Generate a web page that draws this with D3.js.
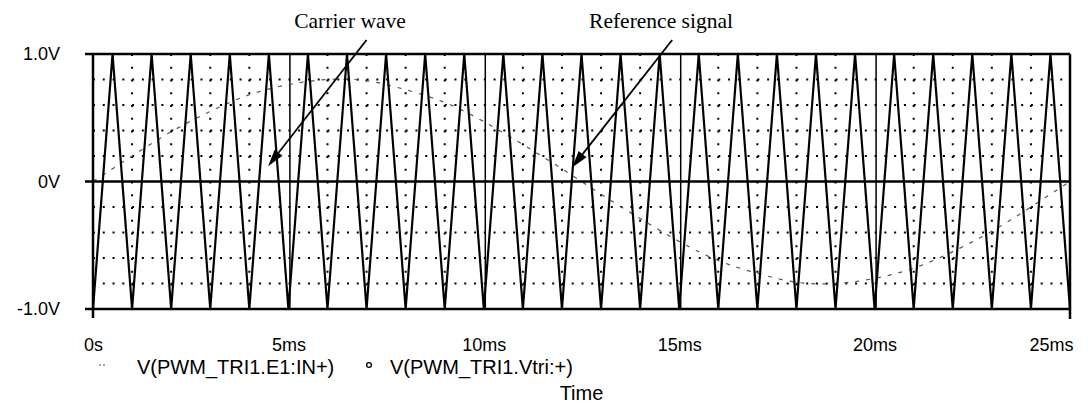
<!DOCTYPE html>
<html>
<head>
	<meta charset="utf-8">
	<script type="text/javascript" src="https://cdn.jsdelivr.net/npm/d3@7"></script>
	<style type="text/css">
		body { margin: 0; background: #fff; }
		.axis text {
			font-family: "Liberation Sans", Arial, sans-serif;
			font-size: 18px;
			fill: #000;
		}
		.axis path { display: none; }
		.axis line { stroke: #000; stroke-width: 2; }
		.note {
			font-family: "Liberation Serif", "Times New Roman", serif;
			font-size: 21.5px;
			fill: #000;
		}
		.legend {
			font-family: "Liberation Sans", Arial, sans-serif;
			font-size: 20px;
			fill: #000;
		}
	</style>
</head>
<body>

<script type="text/javascript">
	var width = 1088;
	var height = 419;
	var padding = {left: 93, right: 18, top: 54, bottom: 110};

	// carrier wave vertices (ms, V)
	var carrierT = [0, 0.5, 1, 1.5, 2, 2.5, 3, 3.5, 4, 4.5, 5, 5.5, 6, 6.5, 7, 7.5, 8, 8.5, 9, 9.5,
		10, 10.5, 11, 11.5, 12, 12.5, 13, 13.5, 14, 14.5, 15, 15.5, 16, 16.5, 17, 17.5, 18, 18.5, 19, 19.5,
		20, 20.5, 21, 21.5, 22, 22.5, 23, 23.5, 24, 24.5, 25];
	var carrierV = [-1, 1, -1, 1, -1, 1, -1, 1, -1, 1, -1, 1, -1, 1, -1, 1, -1, 1, -1, 1,
		-1, 1, -1, 1, -1, 1, -1, 1, -1, 1, -1, 1, -1, 1, -1, 1, -1, 1, -1, 1,
		-1, 1, -1, 1, -1, 1, -1, 1, -1, 1, -1];

	// reference signal read every 1 ms
	var refT = [0, 1, 2, 3, 4, 5, 6, 7, 8, 9, 10, 11, 12, 13, 14, 15, 16, 17, 18, 19, 20, 21, 22, 23, 24, 25];
	var refV = [0, 0.20, 0.39, 0.55, 0.68, 0.76, 0.80, 0.79, 0.72, 0.62, 0.47, 0.29, 0.10,
		-0.10, -0.29, -0.47, -0.62, -0.72, -0.79, -0.80, -0.76, -0.68, -0.55, -0.39, -0.20, 0];

	var xTicks = [0, 5, 10, 15, 20, 25];
	var xTickLabels = ["0s", "5ms", "10ms", "15ms", "20ms", "25ms"];
	var yTicks = [-1, 0, 1];
	var yTickLabels = ["-1.0V", "0V", "1.0V"];
	var gridT = [1, 2, 3, 4, 6, 7, 8, 9, 11, 12, 13, 14, 16, 17, 18, 19, 21, 22, 23, 24];
	var majorT = [5, 10, 15, 20];
	var gridV = [-0.8, -0.6, -0.4, -0.2, 0.2, 0.4, 0.6, 0.8];

	var legendLabels = ["V(PWM_TRI1.E1:IN+)", "V(PWM_TRI1.Vtri:+)"];

	var x = d3.scaleLinear().domain([0, 25]).range([padding.left, width - padding.right]);
	var y = d3.scaleLinear().domain([-1, 1]).range([height - padding.bottom, padding.top]);

	var svg = d3.select("body").append("svg")
		.attr("width", width)
		.attr("height", height);

	//网格点
	svg.selectAll(".hgrid").data(gridV).enter().append("line")
		.attr("class", "hgrid")
		.attr("x1", x(0)).attr("x2", x(25))
		.attr("y1", function(d){ return y(d); })
		.attr("y2", function(d){ return y(d); })
		.attr("stroke", "#000")
		.attr("stroke-width", 2)
		.attr("stroke-dasharray", "2," + (x(0.25) - x(0) - 2));

	svg.selectAll(".vgrid").data(gridT).enter().append("line")
		.attr("class", "vgrid")
		.attr("x1", function(d){ return x(d); })
		.attr("x2", function(d){ return x(d); })
		.attr("y1", y(1)).attr("y2", y(-1))
		.attr("stroke", "#000")
		.attr("stroke-width", 2)
		.attr("stroke-dasharray", "2," + (y(0.9) - y(1) - 2));

	svg.selectAll(".major").data(majorT).enter().append("line")
		.attr("class", "major")
		.attr("x1", function(d){ return x(d) + 1.5; })
		.attr("x2", function(d){ return x(d) + 1.5; })
		.attr("y1", y(1)).attr("y2", y(-1))
		.attr("stroke", "#000")
		.attr("stroke-width", 1.5);

	//参考信号
	var refLine = d3.line()
		.x(function(d, i){ return x(refT[i]); })
		.y(function(d){ return y(d); })
		.curve(d3.curveNatural);
	svg.append("path")
		.attr("d", refLine(refV))
		.attr("fill", "none")
		.attr("stroke", "#555")
		.attr("stroke-width", 1.2)
		.attr("stroke-dasharray", "4,7");

	//载波
	var carLine = d3.line()
		.x(function(d, i){ return x(carrierT[i]); })
		.y(function(d){ return y(d); });
	svg.append("path")
		.attr("d", carLine(carrierV))
		.attr("fill", "none")
		.attr("stroke", "#000")
		.attr("stroke-width", 2.2)
		.attr("stroke-linejoin", "miter");

	//边框
	var frame = svg.append("g").attr("stroke", "#000").attr("stroke-width", 2.5);
	frame.append("line").attr("x1", x(0) - 8).attr("x2", x(25)).attr("y1", y(1)).attr("y2", y(1));
	frame.append("line").attr("x1", x(0) - 8).attr("x2", x(25)).attr("y1", y(-1)).attr("y2", y(-1));
	frame.append("line").attr("x1", x(0) - 8).attr("x2", x(25)).attr("y1", y(0)).attr("y2", y(0));
	frame.append("line").attr("x1", x(0)).attr("x2", x(0)).attr("y1", y(1)).attr("y2", y(-1) + 9);
	frame.append("line").attr("x1", x(25)).attr("x2", x(25)).attr("y1", y(1)).attr("y2", y(-1) + 10);

	//坐标轴
	var xAxis = d3.axisBottom(x)
		.tickValues(xTicks)
		.tickSize(0)
		.tickPadding(29)
		.tickFormat(function(d, i){ return xTickLabels[i]; });
	var gx = svg.append("g")
		.attr("class", "axis")
		.attr("transform", "translate(0," + y(-1) + ")")
		.call(xAxis);
	gx.selectAll("text").filter(function(d){ return d === 25; })
		.attr("text-anchor", "end").attr("dx", 3);

	var yAxis = d3.axisLeft(y)
		.tickValues(yTicks)
		.tickSize(0)
		.tickPadding(33)
		.tickFormat(function(d, i){ return yTickLabels[i]; });
	svg.append("g")
		.attr("class", "axis")
		.attr("transform", "translate(" + x(0) + ",0)")
		.call(yAxis);

	//图例
	svg.append("text").attr("class", "legend")
		.attr("x", 137).attr("y", 374).text(legendLabels[0]);
	svg.append("text").attr("class", "legend")
		.attr("x", 390).attr("y", 374).text(legendLabels[1]);
	svg.append("g").selectAll("circle").data([0, 1]).enter().append("circle")
		.attr("cx", function(d){ return 100 + d * 4; })
		.attr("cy", 365).attr("r", 0.8).attr("fill", "#333");
	svg.append("circle")
		.attr("cx", 369).attr("cy", 365).attr("r", 2.4)
		.attr("fill", "none").attr("stroke", "#000").attr("stroke-width", 1.3);
	svg.append("text").attr("class", "legend")
		.attr("x", x(12.5)).attr("y", 400)
		.attr("text-anchor", "middle").text("Time");

	//标注
	var notes = [
		{label: "Carrier wave", tx: 350, tail: [7.0, 1.11], tip: [4.48, 0.12]},
		{label: "Reference signal", tx: 661, tail: [14.82, 1.11], tip: [12.26, 0.11]}
	];
	notes.forEach(function(n){
		svg.append("text").attr("class", "note")
			.attr("x", n.tx).attr("y", 28)
			.attr("text-anchor", "middle").text(n.label);
		var x1 = x(n.tail[0]), y1 = y(n.tail[1]);
		var x2 = x(n.tip[0]), y2 = y(n.tip[1]);
		var a = Math.atan2(y2 - y1, x2 - x1);
		var len = 17, w = 5;
		var bx = x2 - len * Math.cos(a), by = y2 - len * Math.sin(a);
		svg.append("line")
			.attr("x1", x1).attr("y1", y1).attr("x2", bx).attr("y2", by)
			.attr("stroke", "#000").attr("stroke-width", 1.8);
		svg.append("polygon")
			.attr("points", [
				[x2, y2],
				[bx + w * Math.sin(a), by - w * Math.cos(a)],
				[bx - w * Math.sin(a), by + w * Math.cos(a)]
			].join(" "))
			.attr("fill", "#000");
	});
</script>

</body>
</html>
